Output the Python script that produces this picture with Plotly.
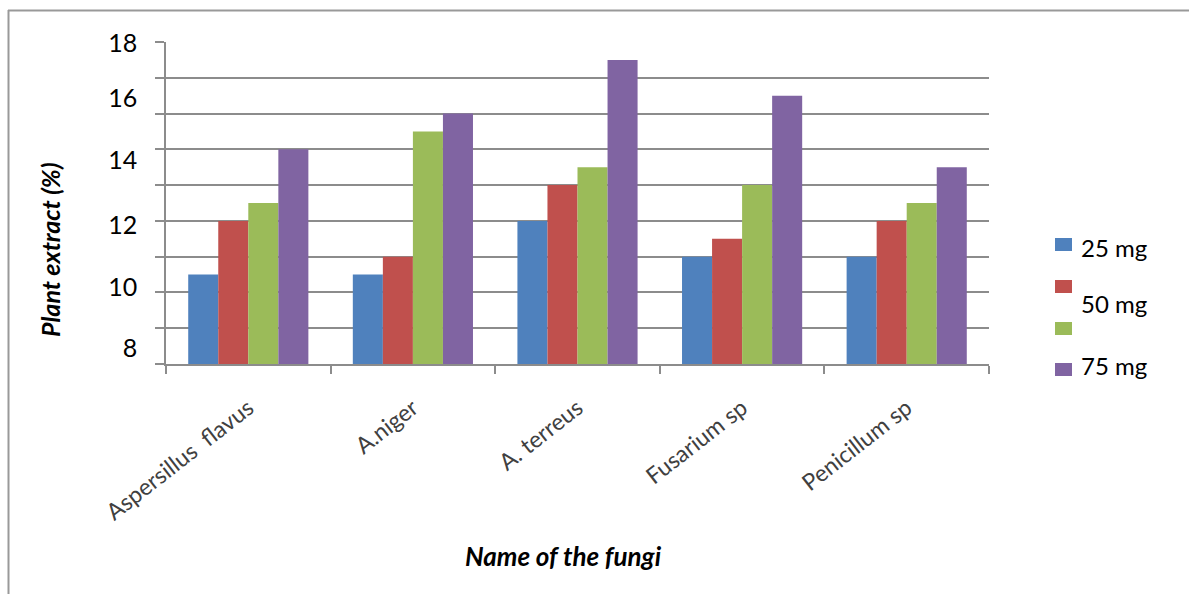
import plotly.graph_objects as go

# Data
fungi = ["Aspersillus  flavus", "A.niger", "A. terreus", "Fusarium sp", "Penicillum sp"]
series_names = ["25 mg", "50 mg", "", "75 mg"]
series_colors = ["#4F81BD", "#C0504D", "#9BBB59", "#8064A2"]
values_s1 = [10.5, 10.5, 12.0, 11.0, 11.0]
values_s2 = [12.0, 11.0, 13.0, 11.5, 12.0]
values_s3 = [12.5, 14.5, 13.5, 13.0, 12.5]
values_s4 = [14.0, 15.0, 16.5, 15.5, 13.5]
series_values = [values_s1, values_s2, values_s3, values_s4]

# Axis labels
y_grid_vals = [8, 9, 10, 11, 12, 13, 14, 15, 16, 17]
y_label_pos = [8.45, 10.15, 11.88, 13.70, 15.43, 16.97]
y_label_text = ["8", "10", "12", "14", "16", "18"]

# Legend labels and their vertical pixel positions
legend_text = ["25 mg", "50 mg", "75 mg"]
legend_text_py = [247, 303, 365]
legend_box_py = [238, 280, 322, 363]

W, H = 1189, 594
L, R, T, B = 166, 989, 42, 364

def px_x(p):
    return (p - L) / (R - L)

def px_y(p):
    return (B - p) / (B - T)

fig = go.Figure()
for name, color, vals in zip(series_names, series_colors, series_values):
    fig.add_trace(go.Bar(x=fungi, y=vals, name=name, marker=dict(color=color, line=dict(width=0))))

grid_color = "#8c8c8c"
font_main = "Lato, 'Open Sans', sans-serif"

fig.update_layout(
    width=W, height=H,
    margin=dict(l=L, r=W - R, t=T, b=H - B),
    paper_bgcolor="white", plot_bgcolor="white",
    barmode="group", bargap=0.27, bargroupgap=0,
    showlegend=False,
    font=dict(family=font_main, color="black"),
    xaxis=dict(
        showline=True, linecolor=grid_color, linewidth=1.5,
        ticks="outside", tickson="boundaries", ticklen=8, tickcolor=grid_color, tickwidth=1.5,
        tickangle=-38, tickfont=dict(size=23, color="#404040", family=font_main),
        ticklabelstandoff=20,
        showgrid=False,
    ),
    yaxis=dict(
        range=[8, 17],
        showline=True, linecolor=grid_color, linewidth=1.5,
        tickmode="array", tickvals=y_label_pos, ticktext=y_label_text,
        ticks="", showgrid=False, zeroline=False,
        tickfont=dict(size=25, color="black", family=font_main),
        ticklabelstandoff=22,
        minor=dict(tickmode="array", tickvals=y_grid_vals, showgrid=True,
                   gridcolor=grid_color, gridwidth=1.5,
                   ticks="outside", ticklen=9, tickcolor=grid_color, tickwidth=1.5),
    ),
)

shapes = []
annotations = []

# Outer frame
shapes.append(dict(type="line", xref="paper", yref="paper",
                   x0=px_x(8), x1=px_x(W + 5), y0=px_y(10.5), y1=px_y(10.5),
                   line=dict(color="#999999", width=2)))
shapes.append(dict(type="line", xref="paper", yref="paper",
                   x0=px_x(8.5), x1=px_x(8.5), y0=px_y(10), y1=px_y(H + 5),
                   line=dict(color="#999999", width=2)))

# Legend swatches
for color, py in zip(series_colors, legend_box_py):
    shapes.append(dict(type="rect", xref="paper", yref="paper",
                       x0=px_x(1055), x1=px_x(1072), y0=px_y(py), y1=px_y(py + 13),
                       fillcolor=color, line=dict(width=0)))
for txt, py in zip(legend_text, legend_text_py):
    annotations.append(dict(text=txt, xref="paper", yref="paper", x=px_x(1079), y=px_y(py),
                            xanchor="left", yanchor="middle", showarrow=False,
                            font=dict(size=24, color="black", family=font_main)))

# Axis titles
annotations.append(dict(text="<b><i>Plant extract (%)</i></b>", xref="paper", yref="paper",
                        x=px_x(50), y=px_y(250), textangle=-90, showarrow=False,
                        xanchor="center", yanchor="middle",
                        font=dict(size=25, color="black", family=font_main)))
annotations.append(dict(text="<b><i>Name of the fungi</i></b>", xref="paper", yref="paper",
                        x=px_x(563), y=px_y(556), showarrow=False,
                        xanchor="center", yanchor="middle",
                        font=dict(size=26, color="black", family=font_main)))

fig.update_layout(shapes=shapes, annotations=annotations)

fig.write_html("out.html")
